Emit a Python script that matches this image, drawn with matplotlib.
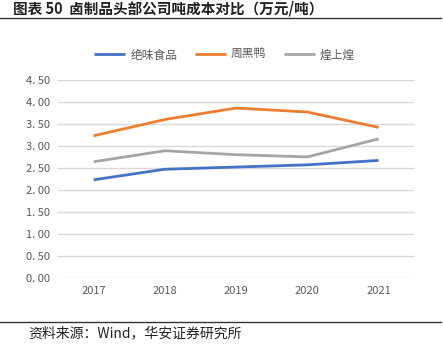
import matplotlib
matplotlib.use("Agg")
from matplotlib import pyplot as plt
from matplotlib.lines import Line2D
import numpy as np

plt.rcParams['font.family'] = ['Noto Sans CJK SC', 'DejaVu Sans']

years = ["2017", "2018", "2019", "2020", "2021"]
juewei = [2.23, 2.47, 2.52, 2.57, 2.67]
zhouhei = [3.23, 3.60, 3.86, 3.77, 3.42]
huangshang = [2.64, 2.89, 2.80, 2.75, 3.16]

series = [
    ("绝味食品", juewei, "#4472C4"),
    ("周黑鸭", zhouhei, "#ED7D31"),
    ("煌上煌", huangshang, "#A5A5A5"),
]

fig = plt.figure(figsize=(4.43, 3.55), dpi=100)
ax = fig.add_axes([0.131, 0.217, 0.804, 0.558])

x = np.arange(len(years))
for name, vals, color in series:
    ax.plot(x, vals, color=color, linewidth=2, label=name, solid_capstyle="butt")

yt = np.arange(0, 4.51, 0.5)
ax.set_xlim(-0.5, len(years) - 0.5)
ax.set_ylim(0, 4.5)
ax.set_yticks(yt)
# the source renders the decimal point with a gap after it
ax.set_yticklabels([("%.2f" % v).replace(".", ". ") for v in yt])
ax.set_xticks(x, years)
ax.tick_params(axis="both", length=0, labelsize=8, labelcolor="#595959", pad=6)
ax.grid(axis="y", color="#D9D9D9", linewidth=1)
ax.set_axisbelow(True)
for s in ax.spines.values():
    s.set_visible(False)

ax.legend(loc="lower center", bbox_to_anchor=(0.468, 1.04), ncol=3, frameon=False,
          fontsize=8.5, labelcolor="#595959", handlelength=2.6, columnspacing=1.5,
          handletextpad=0.45)

fig.text(0.03, 0.976, "图表 50  卤制品头部公司吨成本对比（万元/吨）", fontsize=10.5,
         fontweight="bold", va="center", ha="left", color="#222222")
fig.add_artist(Line2D([0.0, 0.995], [0.949, 0.949], color="#333333", linewidth=1))
fig.add_artist(Line2D([0.0, 0.995], [0.094, 0.094], color="#333333", linewidth=1))
fig.text(0.063, 0.062, "资料来源：Wind，华安证券研究所", fontsize=10, va="center",
         ha="left", color="#222222")

fig.savefig("out.png", dpi=100, facecolor="white")
